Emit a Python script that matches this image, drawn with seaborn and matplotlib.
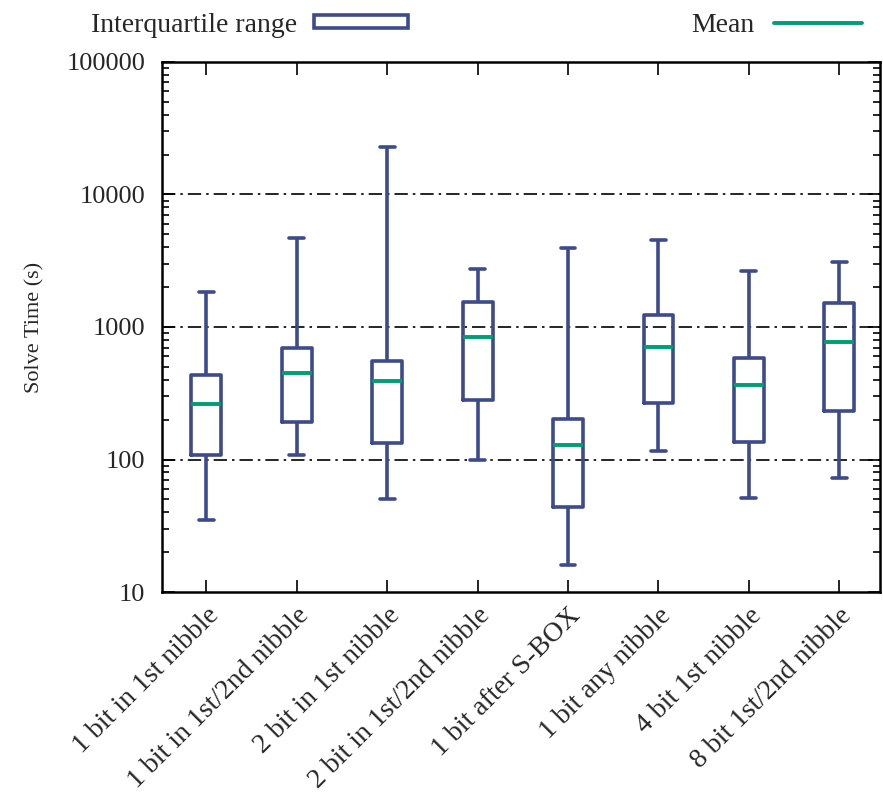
import numpy as np
import pandas as pd
import seaborn as sns
import matplotlib
matplotlib.use('Agg')
from matplotlib import pyplot as plt
from matplotlib.patches import Patch
from matplotlib.lines import Line2D
from matplotlib.ticker import LogLocator, NullFormatter

# categories and box statistics (seconds)
cats = ['1 bit in 1st nibble', '1 bit in 1st/2nd nibble', '2 bit in 1st nibble',
        '2 bit in 1st/2nd nibble', '1 bit after S-BOX', '1 bit any nibble',
        '4 bit 1st nibble', '8 bit 1st/2nd nibble']
lo = [35, 109, 50, 99, 16, 116, 51, 73]
q1 = [109, 191, 134, 281, 44, 268, 136, 232]
mean = [261, 447, 391, 845, 129, 710, 365, 766]
q3 = [434, 695, 557, 1552, 201, 1232, 587, 1510]
hi = [1828, 4697, 22820, 2740, 3970, 4535, 2648, 3110]

navy = '#3d4a8c'
green = '#009e73'

# five points per category -> percentiles 0/25/50/75/100 hit the values exactly
rows = []
for i, c in enumerate(cats):
    for v in (lo[i], q1[i], mean[i], q3[i], hi[i]):
        rows.append((c, v))
df = pd.DataFrame(rows, columns=['cat', 'time'])

sns.set_style('ticks')
plt.rcParams['font.family'] = ['Liberation Serif', 'DejaVu Serif']

fig = plt.figure(figsize=(8.83, 8.08), dpi=100)
ax = fig.add_axes([0.1835, 0.2673, 0.8131, 0.656])

sns.boxplot(data=df, x='cat', y='time', order=cats, whis=(0, 100), width=0.33,
            log_scale=True, fill=False, ax=ax,
            boxprops=dict(color=navy, linewidth=2.6),
            whiskerprops=dict(color=navy, linewidth=2.6),
            capprops=dict(color=navy, linewidth=2.6),
            medianprops=dict(color=green, linewidth=2.8),
            showfliers=False)

ax.set_ylim(10, 100000)
ax.set_xlim(-0.49, 7.45)
ax.yaxis.set_minor_locator(LogLocator(base=10, subs=np.arange(2, 10), numticks=50))
ax.yaxis.set_minor_formatter(NullFormatter())
ax.set_yticks([10, 100, 1000, 10000, 100000])
ax.set_yticklabels(['10', '100', '1000', '10000', '100000'], fontsize=19)

for y in (100, 1000, 10000):
    ax.axhline(y, color='black', lw=1.2, ls=(0, (8, 3, 1.5, 3)), zorder=0)

ax.tick_params(axis='both', which='both', direction='in', top=True, right=True,
               color='black')
ax.tick_params(axis='y', which='major', length=9, width=1.2, pad=12)
ax.tick_params(axis='y', which='minor', length=5, width=1.2)
ax.tick_params(axis='x', which='major', length=9, width=1.2, pad=8)
ax.set_xticks(range(len(cats)))
ax.set_xticklabels(cats, rotation=45, ha='right', rotation_mode='anchor', fontsize=20)
for s in ax.spines.values():
    s.set_linewidth(1.8)
    s.set_color('black')

ax.set_xlabel('')
ax.set_ylabel('Solve Time (s)', fontsize=16, labelpad=16)

h1 = [Patch(facecolor='white', edgecolor=navy, linewidth=2.6)]
h2 = [Line2D([], [], color=green, lw=2.8)]
fig.legend(h1, ['Interquartile range'], loc='upper left', bbox_to_anchor=(0.075, 1.015),
           frameon=False, markerfirst=False, fontsize=20, handlelength=3.4,
           handleheight=0.35, handletextpad=0.6)
fig.legend(h2, ['Mean'], loc='upper right', bbox_to_anchor=(1.005, 1.015),
           frameon=False, markerfirst=False, fontsize=20, handlelength=3.2,
           handletextpad=0.7)

fig.savefig('out.png', dpi=100)
